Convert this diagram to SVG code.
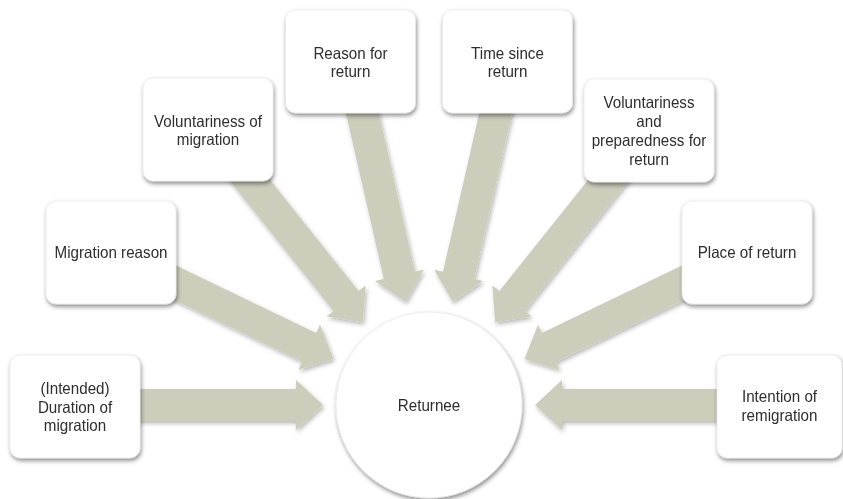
<svg xmlns="http://www.w3.org/2000/svg" width="843" height="499" viewBox="0 0 843 499">
<style>
  .box { fill: #ffffff; stroke: #e4e4e4; stroke-width: 0.6; }
  .arrow { fill: #cccdbb; }
  .lbl { font-family: "Liberation Sans", Arial, sans-serif; font-size: 16.5px; fill: #2e2e2e; text-anchor: middle; }
</style>
<defs>
  <filter id="shBox" x="-20%" y="-20%" width="140%" height="150%">
    <feDropShadow dx="1" dy="2.5" stdDeviation="2" flood-color="#000" flood-opacity="0.45"/>
  </filter>
  <filter id="shArr" x="-10%" y="-10%" width="120%" height="120%">
    <feDropShadow dx="1.5" dy="2.5" stdDeviation="2" flood-color="#000" flood-opacity="0.28"/>
  </filter>
  <path id="arr" d="M -352.5,-16 L -133,-16 L -133,-25 L -106,0 L -133,25 L -133,16 L -352.5,16 Z"/>
</defs>
<rect width="843" height="499" fill="#ffffff"/>

<g id="connectors" class="arrow" filter="url(#shArr)">
  <use href="#arr" transform="translate(429,405) rotate(0)"/>
  <use href="#arr" transform="translate(429,405) rotate(25.714)"/>
  <use href="#arr" transform="translate(429,405) rotate(51.429)"/>
  <use href="#arr" transform="translate(429,405) rotate(77.143)"/>
  <use href="#arr" transform="translate(429,405) rotate(102.857)"/>
  <use href="#arr" transform="translate(429,405) rotate(128.571)"/>
  <use href="#arr" transform="translate(429,405) rotate(154.286)"/>
  <use href="#arr" transform="translate(429,405) rotate(180)"/>
</g>

<g id="node-duration" filter="url(#shBox)">
  <rect class="box" x="10" y="355" width="130" height="103" rx="10"/>
  <g transform="translate(75,0) scale(0.92,1)">
    <text class="lbl" x="0" y="394.2">(Intended)</text>
    <text class="lbl" x="0" y="412.7">Duration of</text>
    <text class="lbl" x="0" y="431.2">migration</text>
  </g>
</g>
<g id="node-migration-reason" filter="url(#shBox)">
  <rect class="box" x="46" y="201" width="130" height="103" rx="10"/>
  <g transform="translate(111,0) scale(0.92,1)">
    <text class="lbl" x="0" y="258.5">Migration reason</text>
  </g>
</g>
<g id="node-voluntariness-migration" filter="url(#shBox)">
  <rect class="box" x="143" y="78" width="130" height="103" rx="10"/>
  <g transform="translate(208,0) scale(0.92,1)">
    <text class="lbl" x="0" y="126.8">Voluntariness of</text>
    <text class="lbl" x="0" y="145.3">migration</text>
  </g>
</g>
<g id="node-reason-return" filter="url(#shBox)">
  <rect class="box" x="285.5" y="10" width="130" height="103" rx="10"/>
  <g transform="translate(350.5,0) scale(0.92,1)">
    <text class="lbl" x="0" y="58.8">Reason for</text>
    <text class="lbl" x="0" y="77.3">return</text>
  </g>
</g>
<g id="node-time-since-return" filter="url(#shBox)">
  <rect class="box" x="442.5" y="10" width="130" height="103" rx="10"/>
  <g transform="translate(507.5,0) scale(0.92,1)">
    <text class="lbl" x="0" y="58.8">Time since</text>
    <text class="lbl" x="0" y="77.3">return</text>
  </g>
</g>
<g id="node-voluntariness-return" filter="url(#shBox)">
  <rect class="box" x="584" y="79" width="130" height="103" rx="10"/>
  <g transform="translate(649,0) scale(0.92,1)">
    <text class="lbl" x="0" y="108">Voluntariness</text>
    <text class="lbl" x="0" y="127">and</text>
    <text class="lbl" x="0" y="146">preparedness for</text>
    <text class="lbl" x="0" y="165">return</text>
  </g>
</g>
<g id="node-place-return" filter="url(#shBox)">
  <rect class="box" x="682" y="201" width="130" height="103" rx="10"/>
  <g transform="translate(747,0) scale(0.92,1)">
    <text class="lbl" x="0" y="258.5">Place of return</text>
  </g>
</g>
<g id="node-remigration" filter="url(#shBox)">
  <rect class="box" x="717" y="355" width="125" height="103" rx="10"/>
  <g transform="translate(779.5,0) scale(0.92,1)">
    <text class="lbl" x="0" y="402.5">Intention of</text>
    <text class="lbl" x="0" y="421">remigration</text>
  </g>
</g>

<g id="node-returnee" filter="url(#shBox)">
  <circle cx="429" cy="405" r="93" fill="#ffffff" stroke="#e4e4e4" stroke-width="0.6"/>
  <g transform="translate(429,0) scale(0.92,1)">
    <text class="lbl" x="0" y="411.5">Returnee</text>
  </g>
</g>
</svg>
